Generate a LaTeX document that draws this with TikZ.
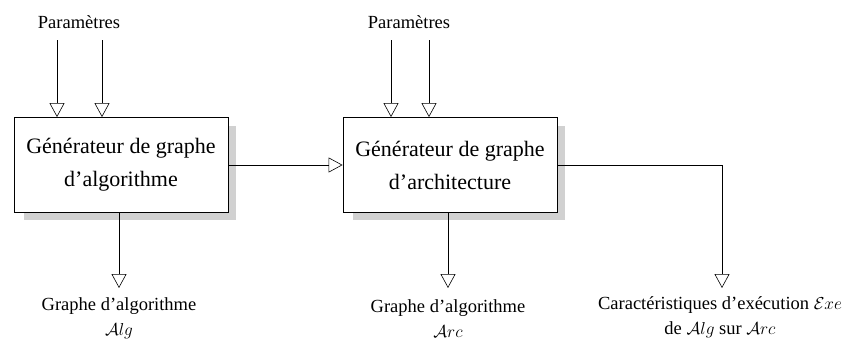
\documentclass[tikz,border=0pt]{standalone}
\usepackage{fontspec}
\setmainfont{Liberation Serif}
\usetikzlibrary{arrows.meta}
\begin{document}
\begin{tikzpicture}[x=1pt,y=-1pt,
  gen/.style={draw,thick,fill=white,minimum width=214pt,minimum height=95pt,inner sep=0pt,align=center,font=\fontsize{22}{33}\selectfont},
  lab/.style={font=\fontsize{18.5}{25}\selectfont,align=center,inner sep=0pt},
  flow/.style={semithick,-{Triangle[open,width=15pt,length=14pt]}}]
\useasboundingbox (0,0) rectangle (843,340);
% shadows
\fill[black!18] (24,126) rectangle (236,220);
\fill[black!18] (353,126) rectangle (565,220);
\node[gen] (g1) at (121,165) {Générateur de graphe\\d’algorithme};
\node[gen] (g2) at (450,165) {Générateur de graphe\\d’architecture};
\node[lab] (p1) at (79,22) {Paramètres};
\node[lab] (p2) at (409,22) {Paramètres};
\coordinate (a1) at (57,40);
\coordinate (a2) at (102,40);
\coordinate (b1) at (391,40);
\coordinate (b2) at (429,40);
\draw[flow] (a1) -- (a1 |- g1.north);
\draw[flow] (a2) -- (a2 |- g1.north);
\draw[flow] (b1) -- (b1 |- g2.north);
\draw[flow] (b2) -- (b2 |- g2.north);
\draw[flow] (g1.east) -- (g2.west);
\node[lab] (o1) at (119,318) {Graphe d’algorithme\\$\mathcal{A}lg$};
\node[lab] (o2) at (448,319) {Graphe d’algorithme\\$\mathcal{A}rc$};
\node[lab] (o3) at (720,317) {Caractéristiques d’exécution $\mathcal{E}xe$\\de $\mathcal{A}lg$ sur $\mathcal{A}rc$};
\coordinate (c1) at (119,288);
\coordinate (c2) at (448,288);
\coordinate (c3) at (722,288);
\draw[flow] (c1 |- g1.south) -- (c1);
\draw[flow] (c2 |- g2.south) -- (c2);
\draw[flow] (g2.east) -| (c3);
\end{tikzpicture}
\end{document}
